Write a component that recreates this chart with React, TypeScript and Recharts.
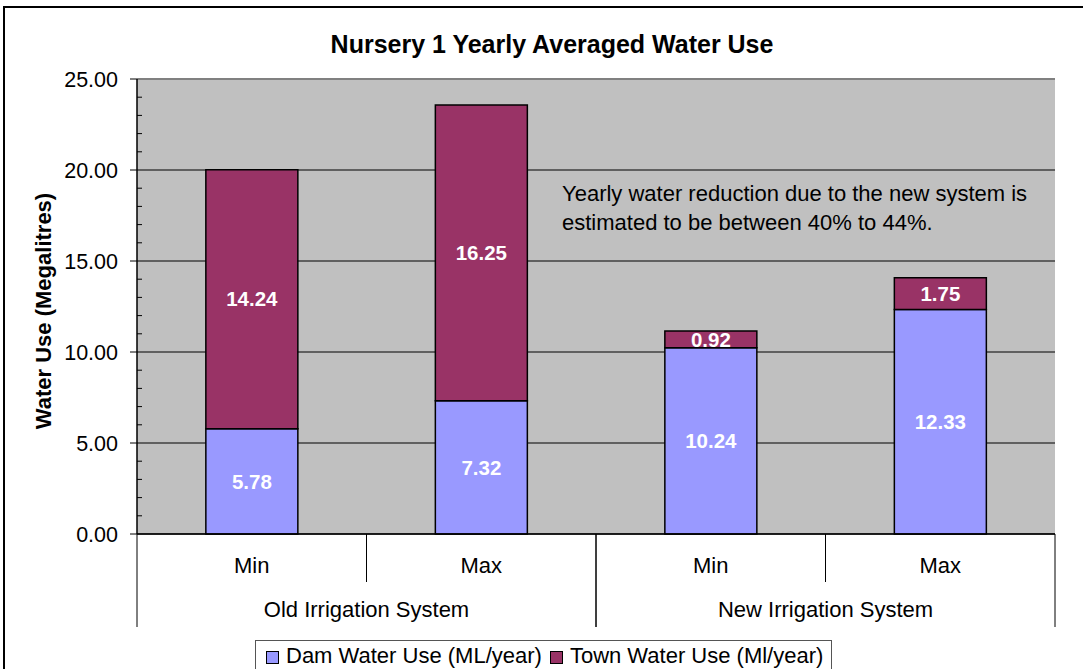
import React from "react";
import {
  BarChart,
  Bar,
  XAxis,
  YAxis,
  CartesianGrid,
  LabelList,
  Legend,
  ReferenceLine,
} from "recharts";

// values
const categories = ["Min", "Max", "Min", "Max"];
const systems = [
  "Old Irrigation System",
  "Old Irrigation System",
  "New Irrigation System",
  "New Irrigation System",
];
const damUse = [5.78, 7.32, 10.24, 12.33];
const townUse = [14.24, 16.25, 0.92, 1.75];
const yMax = 25;
const yMajorTicks = [0, 5, 10, 15, 20, 25];
const yAllTicks = [
  0, 1, 2, 3, 4, 5, 6, 7, 8, 9, 10, 11, 12, 13, 14, 15, 16, 17, 18, 19, 20,
  21, 22, 23, 24, 25,
];

const DAM = "#9999FF";
const TOWN = "#993366";
const FONT = "'Liberation Sans', Arial, sans-serif";

const data = categories.map((c, i) => ({
  label: c,
  system: systems[i],
  dam: damUse[i],
  town: townUse[i],
}));

// major ticks point out with a label, minor ones point into the plot
function ValueTick(props: any) {
  const { x, y, payload } = props;
  const v = Number(payload.value);
  if (yMajorTicks.includes(v)) {
    return (
      <g>
        <line x1={x - 7} x2={x} y1={y} y2={y} stroke="#000" />
        <text
          x={x - 19}
          y={y}
          dy="0.36em"
          textAnchor="end"
          fontSize={21.5}
          fill="#000"
        >
          {v.toFixed(2)}
        </text>
      </g>
    );
  }
  return <line x1={x} x2={x + 5} y1={y} y2={y} stroke="#000" />;
}

function CategoryTick(props: any) {
  const { x, y, payload, index } = props;
  const half = payload.offset ?? 114.75;
  const sys = systems[index];
  const first = index === 0 || systems[index - 1] !== sys;
  const sameNext = index < systems.length - 1 && systems[index + 1] === sys;
  let span = 0;
  while (systems[index + span] === sys) span++;

  return (
    <g>
      <text x={x} y={y + 39} textAnchor="middle" fontSize={22} fill="#000">
        {payload.value}
      </text>
      {sameNext ? (
        <line x1={x + half} x2={x + half} y1={y} y2={y + 48} stroke="#000" />
      ) : (
        <line x1={x + half} x2={x + half} y1={y} y2={y + 93} stroke="#000" />
      )}
      {first && (
        <>
          <line x1={x - half} x2={x - half} y1={y} y2={y + 93} stroke="#000" />
          <text
            x={x - half + span * half}
            y={y + 83}
            textAnchor="middle"
            fontSize={22}
            fill="#000"
          >
            {sys}
          </text>
        </>
      )}
    </g>
  );
}

function LegendBox(props: any) {
  const items = props.payload || [];
  return (
    <div
      style={{
        border: "1px solid #555",
        height: 40,
        boxSizing: "border-box",
        display: "flex",
        alignItems: "flex-start",
        paddingLeft: 10,
        paddingTop: 3,
        fontSize: 22,
        fontFamily: FONT,
        color: "#000",
        background: "#fff",
        whiteSpace: "nowrap",
      }}
    >
      {items.map((it: any, i: number) => (
        <div
          key={i}
          style={{ display: "flex", alignItems: "center", marginLeft: i ? 8 : 0 }}
        >
          <span
            style={{
              display: "inline-block",
              width: 11,
              height: 11,
              border: "1px solid #000",
              background: it.color,
              marginRight: 7,
              marginTop: 3,
            }}
          />
          <span style={{ lineHeight: "24px" }}>{it.value}</span>
        </div>
      ))}
    </div>
  );
}

export default function App() {
  return (
    <div
      style={{
        position: "absolute",
        left: 0,
        top: 0,
        width: 1083,
        height: 669,
        overflow: "hidden",
        background: "#fff",
        fontFamily: FONT,
      }}
    >
      <div
        style={{
          position: "absolute",
          left: 3,
          top: 6,
          width: 1200,
          height: 800,
          borderLeft: "2px solid #000",
          borderTop: "2px solid #000",
        }}
      />
      <BarChart
        width={1083}
        height={669}
        data={data}
        margin={{ top: 79, right: 28, bottom: 42, left: 77 }}
        barCategoryGap="30%"
      >
        <CartesianGrid
          vertical={false}
          stroke="#000"
          fill="#C0C0C0"
          fillOpacity={1}
          horizontalCoordinatesGenerator={({ yAxis, offset }: any) =>
            yMajorTicks.map((v) =>
              yAxis && typeof yAxis.scale === "function"
                ? yAxis.scale(v)
                : offset.top + offset.height * (1 - v / yMax)
            )
          }
        />
        <ReferenceLine y={yMax} stroke="#808080" strokeWidth={2} />
        <XAxis
          dataKey="label"
          height={93}
          interval={0}
          tickLine={false}
          tickSize={0}
          tickMargin={0}
          axisLine={{ stroke: "#000", strokeWidth: 1.5 }}
          tick={<CategoryTick />}
        />
        <YAxis
          width={60}
          domain={[0, yMax]}
          ticks={yAllTicks}
          interval={0}
          tick={<ValueTick />}
          tickSize={0}
          tickMargin={0}
          tickLine={false}
          axisLine={{ stroke: "#000", strokeWidth: 1.5 }}
        />
        <YAxis
          yAxisId="right"
          orientation="right"
          width={0}
          domain={[0, yMax]}
          tick={false}
          tickLine={false}
          axisLine={{ stroke: "#808080", strokeWidth: 2 }}
        />
        <Legend
          verticalAlign="middle"
          align="center"
          layout="horizontal"
          wrapperStyle={{ top: 640, left: 255, width: 577, height: 40 }}
          content={<LegendBox />}
        />
        <Bar
          dataKey="dam"
          name="Dam Water Use (ML/year)"
          stackId="a"
          fill={DAM}
          stroke="#000"
          strokeWidth={1.5}
          isAnimationActive={false}
        >
          <LabelList
            dataKey="dam"
            position="center"
            fill="#fff"
            fontWeight="bold"
            fontSize={20.5}
            formatter={(v: any) => Number(v).toFixed(2)}
          />
        </Bar>
        <Bar
          dataKey="town"
          name="Town Water Use (Ml/year)"
          stackId="a"
          fill={TOWN}
          stroke="#000"
          strokeWidth={1.5}
          isAnimationActive={false}
        >
          <LabelList
            dataKey="town"
            position="center"
            fill="#fff"
            fontWeight="bold"
            fontSize={20.5}
            formatter={(v: any) => Number(v).toFixed(2)}
          />
        </Bar>
        <text
          x={552}
          y={53}
          textAnchor="middle"
          fontSize={25}
          fontWeight="bold"
          fill="#000"
        >
          Nursery 1 Yearly Averaged Water Use
        </text>
        <text
          transform="translate(51,311) rotate(-90)"
          textAnchor="middle"
          fontSize={22}
          fontWeight="bold"
          fill="#000"
        >
          Water Use (Megalitres)
        </text>
        <text x={562} y={201} fontSize={22} fill="#000">
          Yearly water reduction due to the new system is
        </text>
        <text x={562} y={230} fontSize={22} fill="#000">
          estimated to be between 40% to 44%.
        </text>
      </BarChart>
    </div>
  );
}
